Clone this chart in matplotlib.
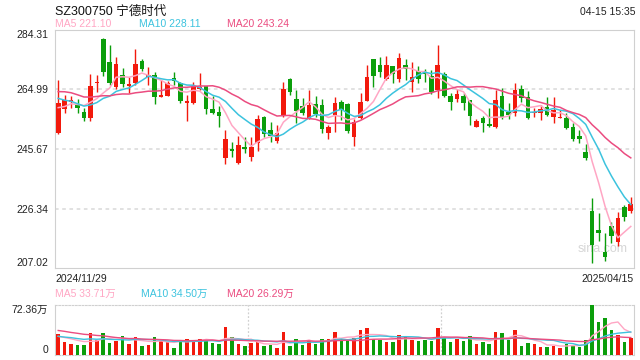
import numpy as np
import pandas as pd
import matplotlib
matplotlib.use("Agg")
import matplotlib.pyplot as plt

plt.rcParams['font.family'] = ['Liberation Sans', 'Noto Sans CJK SC', 'DejaVu Sans']

# daily candles 2024/11/29 .. 2025/04/15 (90 sessions)
opens = [251.0, 258.5, 261.0, 260.0, 257.8, 255.8, 267.0, 281.4, 273.9, 265.9,
         269.7, 266.2, 267.0, 274.2, 269.2, 269.7, 262.7, 262.9, 268.8, 267.2,
         260.5, 260.7, 265.0, 266.1, 258.7, 257.7, 242.9, 245.7, 241.2, 246.4,
         243.2, 247.5, 256.0, 251.8, 248.4, 256.5, 268.4, 261.9, 259.6, 255.6,
         260.3, 260.0, 251.0, 256.7, 260.9, 260.3, 249.7, 255.6, 261.3, 274.9,
         272.9, 268.4, 272.6, 268.4, 272.9, 267.5, 271.1, 270.2, 269.4, 264.8,
         270.0, 262.9, 262.0, 262.9, 261.6, 252.9, 255.8, 253.8, 252.9, 262.9,
         257.8, 257.3, 265.2, 262.7, 257.3, 257.5, 259.4, 256.2, 255.8, 255.8,
         252.9, 249.9, 244.8, 225.5, 219.4, 212.1, 220.5, 215.6, 226.9, 225.5]
highs = [268.1, 263.2, 262.9, 261.8, 258.9, 269.9, 269.7, 281.8, 279.4, 275.4,
         271.9, 269.2, 278.0, 274.8, 272.2, 270.6, 268.1, 267.9, 270.8, 267.5,
         263.2, 267.5, 270.5, 266.2, 263.0, 259.6, 251.8, 248.1, 249.9, 249.7,
         249.7, 256.7, 256.4, 254.3, 253.3, 267.5, 268.8, 264.8, 262.3, 264.8,
         262.9, 261.8, 253.5, 262.7, 261.6, 260.7, 255.5, 264.0, 272.9, 275.0,
         275.4, 276.0, 272.7, 277.0, 274.8, 273.9, 272.6, 271.5, 271.3, 279.4,
         270.8, 263.7, 265.2, 263.7, 261.7, 255.3, 256.4, 258.9, 264.8, 265.4,
         260.5, 267.0, 266.5, 264.5, 258.9, 260.0, 262.7, 262.7, 258.3, 257.5,
         254.0, 251.8, 247.3, 229.7, 224.8, 218.3, 221.8, 225.3, 227.5, 230.2]
lows = [250.6, 257.3, 258.9, 257.5, 254.9, 254.9, 264.3, 269.4, 266.5, 265.0,
        265.9, 263.8, 266.5, 271.1, 266.5, 260.2, 262.6, 262.8, 266.5, 260.7,
        254.9, 260.3, 264.9, 256.9, 257.0, 252.9, 240.8, 243.0, 240.8, 244.5,
        241.8, 245.0, 249.5, 248.1, 247.7, 256.2, 263.2, 254.0, 256.7, 255.3,
        256.0, 250.8, 248.9, 251.3, 255.1, 250.8, 246.8, 255.3, 261.2, 265.9,
        269.2, 268.1, 267.0, 267.5, 268.1, 264.3, 267.0, 267.5, 263.5, 262.1,
        262.4, 258.3, 260.8, 258.3, 253.3, 252.8, 251.3, 252.9, 252.6, 255.4,
        255.3, 256.4, 261.0, 255.4, 256.2, 255.1, 256.4, 254.0, 255.6, 252.1,
        248.4, 247.5, 242.1, 208.6, 215.9, 209.4, 215.0, 214.2, 222.3, 224.8]
closes = [260.7, 261.6, 261.6, 259.1, 255.8, 266.1, 267.5, 270.8, 267.2, 273.3,
          266.8, 266.8, 273.3, 271.5, 269.5, 262.7, 262.9, 267.2, 267.8, 261.3,
          261.4, 266.1, 265.7, 258.7, 257.5, 256.4, 248.9, 245.1, 247.0, 245.8,
          246.4, 255.5, 250.5, 249.9, 250.8, 265.2, 264.3, 258.1, 257.5, 260.0,
          256.9, 252.2, 252.9, 260.7, 258.3, 251.5, 254.4, 261.0, 269.2, 269.4,
          270.8, 272.9, 269.9, 275.2, 271.5, 269.0, 268.5, 269.9, 264.3, 273.1,
          262.9, 261.0, 263.5, 260.7, 256.4, 254.8, 254.2, 253.2, 261.6, 256.0,
          256.7, 264.8, 262.1, 255.8, 257.5, 258.7, 256.7, 258.3, 256.2, 252.6,
          248.9, 248.9, 242.9, 214.5, 218.5, 210.5, 217.5, 223.2, 223.7, 227.7]
# volume, 10k lots (万)
volumes = [31.1, 19.4, 16.5, 15.1, 15.1, 32.5, 22.3, 32.5, 18.0, 20.9,
           28.2, 15.5, 26.7, 13.6, 15.1, 26.7, 19.9, 18.9, 10.7, 22.3,
           23.8, 22.3, 23.8, 20.9, 18.0, 16.5, 39.8, 26.7, 16.5, 13.6,
           18.0, 19.4, 13.6, 15.1, 10.7, 34.0, 13.6, 23.8, 15.1, 22.3,
           16.5, 23.8, 23.8, 34.0, 23.8, 23.8, 25.3, 36.9, 38.4, 23.8,
           22.3, 19.4, 19.4, 29.6, 26.7, 22.3, 20.9, 22.3, 20.9, 38.4,
           25.3, 19.4, 23.8, 20.9, 28.2, 16.5, 19.4, 16.5, 34.0, 32.5,
           22.3, 36.9, 13.6, 18.0, 16.5, 12.1, 12.1, 13.6, 10.7, 16.5,
           15.1, 12.1, 22.3, 72.36, 47.1, 52.9, 36.9, 29.6, 19.4, 25.3]

# sessions before the window, only used to warm up the moving averages
prev_close = [262.5, 268.0, 272.3, 270.1, 266.8, 263.5, 265.9, 268.2, 264.7, 263.0,
              267.4, 265.2, 266.9, 263.6, 262.4, 259.8, 257.1, 260.2, 257.7]
prev_volume = [45.0, 48.2, 40.1, 43.5, 46.3, 41.8, 44.0, 42.6, 45.9, 42.6,
               30.2, 24.5, 28.8, 26.1, 25.4, 28.0, 25.7, 26.3, 23.9]

ma_legend = ['MA5 221.10', 'MA10 228.11', 'MA20 243.24']
vol_legend = ['MA5 33.71万', 'MA10 34.50万', 'MA20 26.29万']
price_ticks = [207.02, 226.34, 245.67, 264.99, 284.31]
vol_ticks = [0, 72.36]
first_date, last_date = '2024/11/29', '2025/04/15'

RED = '#f2190c'
GREEN = '#0b9e0b'
MA_COLORS = ['#ffa6c4', '#3cc3de', '#eb4c80']

n = len(closes)
x = np.arange(n)
o, h, l, c = map(np.array, (opens, highs, lows, closes))
up = c >= o
cols = np.where(up, RED, GREEN)

cs = pd.Series(prev_close + closes)
vs = pd.Series(prev_volume + volumes)
k = len(prev_close)

fig = plt.figure(figsize=(6.4, 3.6), dpi=100)
ax = fig.add_axes([55 / 640, 92 / 360, 579 / 640, 238 / 360])
av = fig.add_axes([55 / 640, 5 / 360, 579 / 640, 50 / 360])

# price panel
ax.vlines(x, l, h, colors=cols, lw=1, zorder=3)
body = np.maximum(np.abs(c - o), 0.35)
ax.bar(x, body, bottom=np.minimum(o, c), width=0.72, color=cols, zorder=4)
for w, col in zip([5, 10, 20], MA_COLORS):
    ma = cs.rolling(w).mean().values[k:]
    ax.plot(x, ma, color=col, lw=1.1, zorder=5)

ax.set_xlim(-0.5, n - 0.5)
ax.set_ylim(price_ticks[0], price_ticks[-1])
for yv in price_ticks[1:-1]:
    ax.axhline(yv, color='#dedede', lw=1.3, ls=(0, (2, 2)), zorder=1)
ax.set_yticks(price_ticks)
ax.set_yticklabels([f'{v:.2f}' for v in price_ticks], fontsize=7.5, color='#222222')
labs = ax.get_yticklabels()
labs[0].set_va('bottom')
labs[-1].set_va('top')
ax.tick_params(axis='y', length=0, pad=5)
ax.set_xticks([])
for s in ax.spines.values():
    s.set_color('#d0d0d0')
ax.text(0, -0.025, first_date, transform=ax.transAxes, ha='left', va='top', fontsize=7.5, color='#222222')
ax.text(1, -0.025, last_date, transform=ax.transAxes, ha='right', va='top', fontsize=7.5, color='#222222')
ax.text(84.6, 213.2, 'sina.com', ha='center', va='center', fontsize=9, color='#d6d6d6', zorder=2)

# titles and legends
fig.text(55 / 640, 1 - 12 / 360, 'SZ300750 宁德时代', ha='left', va='center', fontsize=9, color='#111111')
fig.text(636 / 640, 1 - 12 / 360, '04-15 15:35', ha='right', va='center', fontsize=7.5, color='#222222')
for xp, txt, col in zip([55, 139, 227], ma_legend, MA_COLORS):
    fig.text(xp / 640, 1 - 24 / 360, txt, ha='left', va='center', fontsize=7.5, color=col)
for xp, txt, col in zip([55, 141, 227], vol_legend, MA_COLORS):
    fig.text(xp / 640, 1 - 294 / 360, txt, ha='left', va='center', fontsize=7.5, color=col)

# volume panel
av.bar(x, volumes, width=0.55, color=cols, zorder=3)
for w, col in zip([5, 10, 20], MA_COLORS):
    ma = vs.rolling(w).mean().values[k:]
    av.plot(x, ma, color=col, lw=1.0, zorder=4)
av.set_xlim(-0.5, n - 0.5)
av.set_ylim(0, vol_ticks[-1])
for xv in [n / 3 - 0.5, 2 * n / 3 - 0.5]:
    av.axvline(xv, color='#d0d0d0', lw=0.9, ls=(0, (1.5, 1.5)), zorder=1)
av.set_yticks(vol_ticks)
av.set_yticklabels(['0', '72.36万'], fontsize=7.5, color='#222222')
vl = av.get_yticklabels()
vl[0].set_va('bottom')
vl[-1].set_va('top')
av.tick_params(axis='y', length=0, pad=5)
av.set_xticks([])
for s in av.spines.values():
    s.set_color('#d0d0d0')
av.spines['top'].set_linestyle((0, (1.5, 1.5)))
av.spines['bottom'].set_linestyle((0, (1.5, 1.5)))

fig.savefig('out.png', dpi=100)
